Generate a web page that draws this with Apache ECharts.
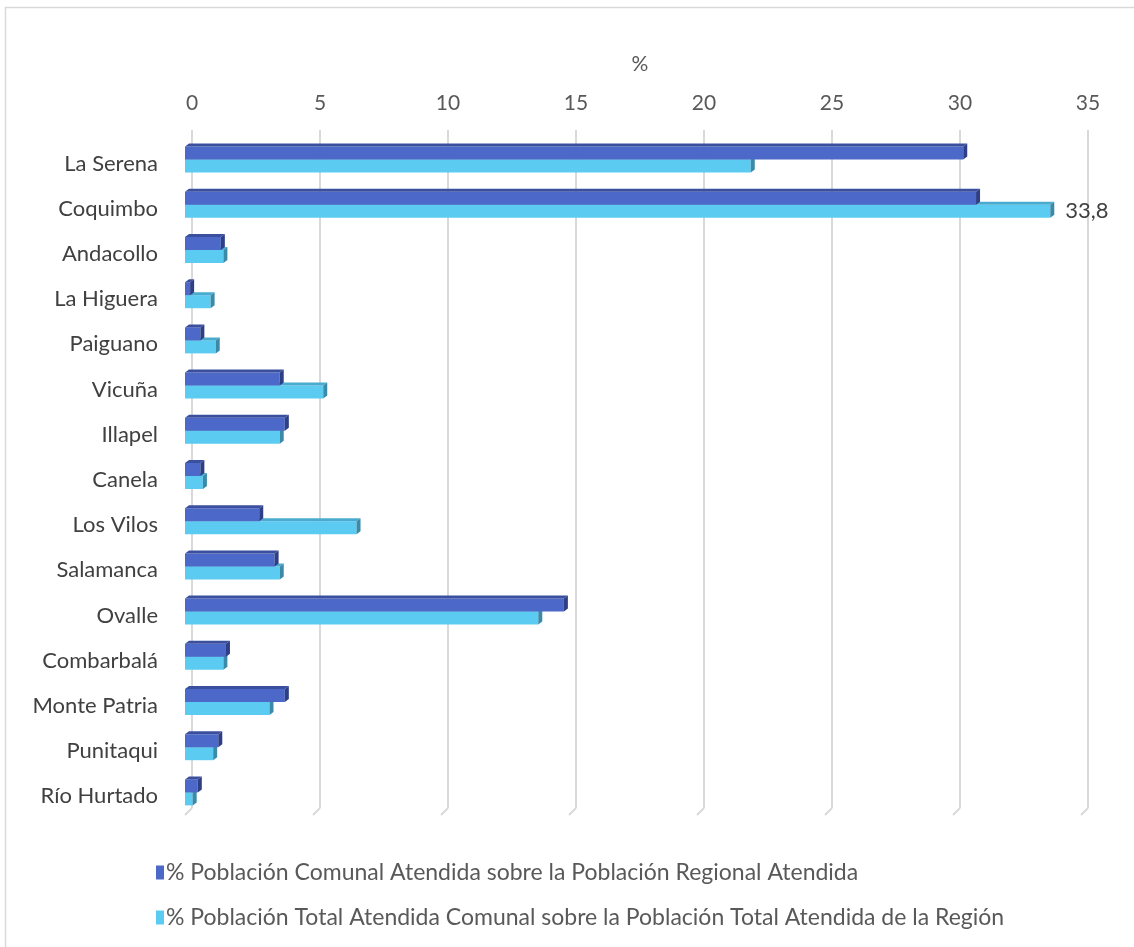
<!DOCTYPE html>
<html>
<head>
<meta charset="utf-8">
<script src="https://cdn.jsdelivr.net/npm/echarts@6/dist/echarts.min.js"></script>
<style>
html,body{margin:0;padding:0;background:#fff;}
#chart{width:1134px;height:947px;}
</style>
</head>
<body>
<div id="chart"></div>
<script>
const categories = ['La Serena','Coquimbo','Andacollo','La Higuera','Paiguano','Vicuña','Illapel','Canela','Los Vilos','Salamanca','Ovalle','Combarbalá','Monte Patria','Punitaqui','Río Hurtado'];
const seriesNames = ['% Población Comunal Atendida sobre la Población Regional Atendida','% Población Total Atendida Comunal sobre la Población Total Atendida de la Región'];
const comunalRegional = [30.4,30.9,1.4,0.2,0.6,3.7,3.9,0.6,2.9,3.5,14.8,1.6,3.9,1.3,0.5];
const totalRegion = [22.1,33.8,1.5,1.0,1.2,5.4,3.7,0.7,6.7,3.7,13.8,1.5,3.3,1.1,0.3];
const xTicks = [0,5,10,15,20,25,30,35];
const labeledPoint = {series: 1, category: 'Coquimbo'};

const FONT = 'Lato';
const chart = echarts.init(document.getElementById('chart'), null, {renderer:'canvas'});

const palettes = [
  {front:'#4c68c8', top:'#3b4f9f', side:'#2f3f86'},
  {front:'#5ccbf1', top:'#49abcf', side:'#3a8aa8'}
];

function barRender(sIdx){
  const pal = palettes[sIdx];
  return function(params, api){
    const val = api.value(0), cat = api.value(1);
    const p0 = api.coord([0, cat]);
    const p1 = api.coord([val, cat]);
    const bw = 13, d = 4, dy = 3;
    const y = p0[1] - bw + sIdx*bw;
    const x0 = p0[0], x1 = p1[0];
    const children = [
      {type:'rect', shape:{x:x0, y:y, width:x1-x0, height:bw}, style:{fill:pal.front}},
      {type:'polygon', shape:{points:[[x0,y],[x0+d,y-dy],[x1+d,y-dy],[x1,y]]}, style:{fill:pal.top}},
      {type:'polygon', shape:{points:[[x1,y],[x1+d,y-dy],[x1+d,y+bw-dy],[x1,y+bw]]}, style:{fill:pal.side}}
    ];
    if (sIdx === labeledPoint.series && categories[cat] === labeledPoint.category){
      children.push({type:'text', style:{text:String(val).replace('.',','), x:x1+d+11, y:y+bw/2, verticalAlign:'middle', align:'left', font:'22px '+FONT, fill:'#404040'}});
    }
    return {type:'group', children};
  };
}

const option = {
  backgroundColor:'#fff',
  animation:false,
  graphic:[{type:'rect', left:3, top:5, shape:{width:1150, height:960}, style:{fill:'none', stroke:'#d9d9d9', lineWidth:1.5}, silent:true}],
  grid:[
    {left:192, top:130, width:896, height:678},
    {left:185, top:137, width:896, height:678}
  ],
  xAxis:[
    {gridIndex:0, type:'value', position:'top', min:0, max:35, interval:5,
      name:'%', nameLocation:'middle', nameGap:55, nameTextStyle:{fontFamily:FONT, fontSize:21, color:'#595959'},
      axisLine:{show:false}, axisTick:{show:false},
      axisLabel:{margin:16, fontFamily:FONT, fontSize:21, color:'#595959'},
      splitLine:{show:true, lineStyle:{color:'#d9d9d9', width:2}}},
    {gridIndex:1, type:'value', min:0, max:35, interval:5, show:false}
  ],
  yAxis:[
    {gridIndex:0, type:'value', min:0, max:1, show:false},
    {gridIndex:1, type:'category', data:categories, inverse:true,
      axisLine:{show:false}, axisTick:{show:false}, splitLine:{show:false},
      axisLabel:{margin:27, fontFamily:FONT, fontSize:22, color:'#404040', verticalAlign:'top', lineHeight:8}}
  ],
  legend:{
    orient:'vertical', left:151, top:856, itemWidth:8, itemHeight:14, itemGap:22,
    icon:'rect', data:seriesNames,
    textStyle:{fontFamily:FONT, fontSize:23, color:'#595959', padding:[0,0,0,-3]}
  },
  series:[
    {type:'custom', name:'floor', xAxisIndex:0, yAxisIndex:0, silent:true, z:1,
      data:xTicks.map(v=>[v,0]),
      renderItem:function(params, api){
        const p = api.coord([api.value(0), 0]);
        return {type:'line', shape:{x1:p[0], y1:p[1], x2:p[0]-7, y2:p[1]+7}, style:{stroke:'#d9d9d9', lineWidth:2}};
      }},
    {type:'custom', name:seriesNames[0], xAxisIndex:1, yAxisIndex:1, z:4,
      itemStyle:{color:palettes[0].front},
      data:comunalRegional.map((v,i)=>[v,i]), renderItem:barRender(0)},
    {type:'custom', name:seriesNames[1], xAxisIndex:1, yAxisIndex:1, z:3,
      itemStyle:{color:palettes[1].front},
      data:totalRegion.map((v,i)=>[v,i]), renderItem:barRender(1)}
  ]
};
chart.setOption(option);
</script>
</body>
</html>
